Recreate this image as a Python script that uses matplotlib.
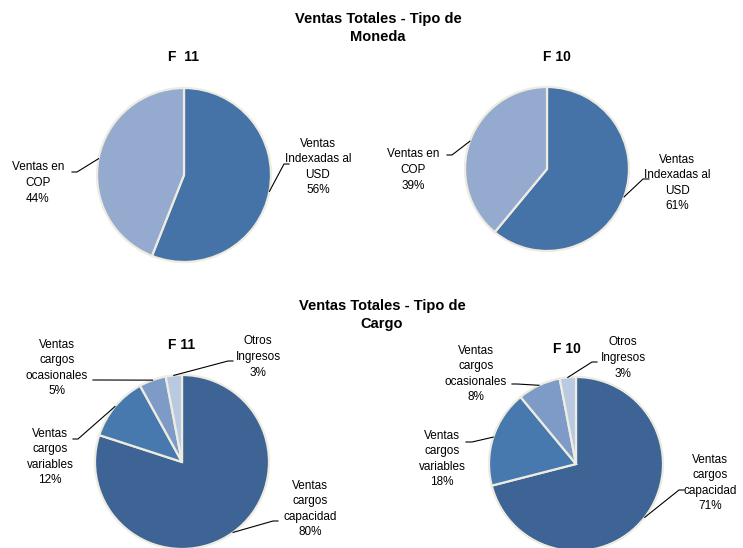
import numpy as np
import matplotlib
matplotlib.use('Agg')
from matplotlib import pyplot as plt

plt.rcParams['font.family'] = ['Liberation Sans', 'DejaVu Sans']

W, H = 743, 548

# datos
moneda_labels = ['Ventas\nIndexadas al\nUSD', 'Ventas en\nCOP']
moneda_f11 = [56, 44]
moneda_f10 = [61, 39]
moneda_colors = ['#4572A7', '#95AACF']

cargo_labels = ['Ventas\ncargos\ncapacidad', 'Ventas\ncargos\nvariables',
                'Ventas\ncargos\nocasionales', 'Otros\nIngresos']
cargo_f11 = [80, 12, 5, 3]
cargo_f10 = [71, 18, 8, 3]
cargo_colors = ['#3D6495', '#4778AE', '#7E9BC7', '#B9C9E2']

# layout in pixel coords (x from left, y from top)
pies = [
    dict(vals=moneda_f11, labels=moneda_labels, colors=moneda_colors, c=(184, 175), r=87,
         title='F  11', tpos=(183, 57),
         txt=[(318, 167), (38, 183)], knee=[(284, 164), (77, 172)], end=[289, 72]),
    dict(vals=moneda_f10, labels=moneda_labels, colors=moneda_colors, c=(547, 169), r=82,
         title='F 10', tpos=(557, 57),
         txt=[(677, 183), (413, 170)], knee=[(643, 179), (452, 155)], end=[649, 447]),
    dict(vals=cargo_f11, labels=cargo_labels, colors=cargo_colors, c=(182, 462), r=87,
         title='F 11', tpos=(182, 345),
         txt=[(310, 509), (50, 457), (57, 368), (258, 357)],
         knee=[(273, 521), (78, 439), (99, 380), (228, 361)], end=[278, 73, 93, 233]),
    dict(vals=cargo_f10, labels=cargo_labels, colors=cargo_colors, c=(576, 464), r=87,
         title='F 10', tpos=(567, 349),
         txt=[(710, 483), (442, 459), (476, 374), (623, 358)],
         knee=[(679, 490), (472, 442), (517, 384), (592, 362)], end=[684, 466, 512, 597]),
]

fig = plt.figure(figsize=(W / 100, H / 100), dpi=100)
ax = fig.add_axes([0, 0, 1, 1])

for p in pies:
    cx, cy = p['c'][0], H - p['c'][1]
    wedges, _ = ax.pie(p['vals'], colors=p['colors'], startangle=90, counterclock=False,
                       center=(cx, cy), radius=p['r'],
                       wedgeprops=dict(edgecolor='#EEECE1', linewidth=1.6))
    for i, w in enumerate(wedges):
        ang = np.deg2rad((w.theta1 + w.theta2) / 2)
        rx, ry = cx + p['r'] * np.cos(ang), cy + p['r'] * np.sin(ang)
        kx, ky = p['knee'][i][0], H - p['knee'][i][1]
        ax.plot([rx, kx, p['end'][i]], [ry, ky, ky], color='black', lw=0.8)
        tx, ty = p['txt'][i]
        ax.text(tx, H - ty, '%s\n%d%%' % (p['labels'][i], p['vals'][i]),
                ha='center', va='center', fontsize=8.5, linespacing=1.4)
    ax.text(p['tpos'][0], H - p['tpos'][1], p['title'], ha='center', va='center',
            fontsize=10, fontweight='bold')

ax.text(378, H - 28, 'Ventas Totales - Tipo de\nMoneda', ha='center', va='center',
        fontsize=10.5, fontweight='bold', linespacing=1.3)
ax.text(382, H - 315, 'Ventas Totales - Tipo de\nCargo', ha='center', va='center',
        fontsize=10.5, fontweight='bold', linespacing=1.3)

ax.set_xlim(0, W)
ax.set_ylim(0, H)
ax.set_aspect('auto')
ax.axis('off')

plt.savefig('out.png', dpi=100)
